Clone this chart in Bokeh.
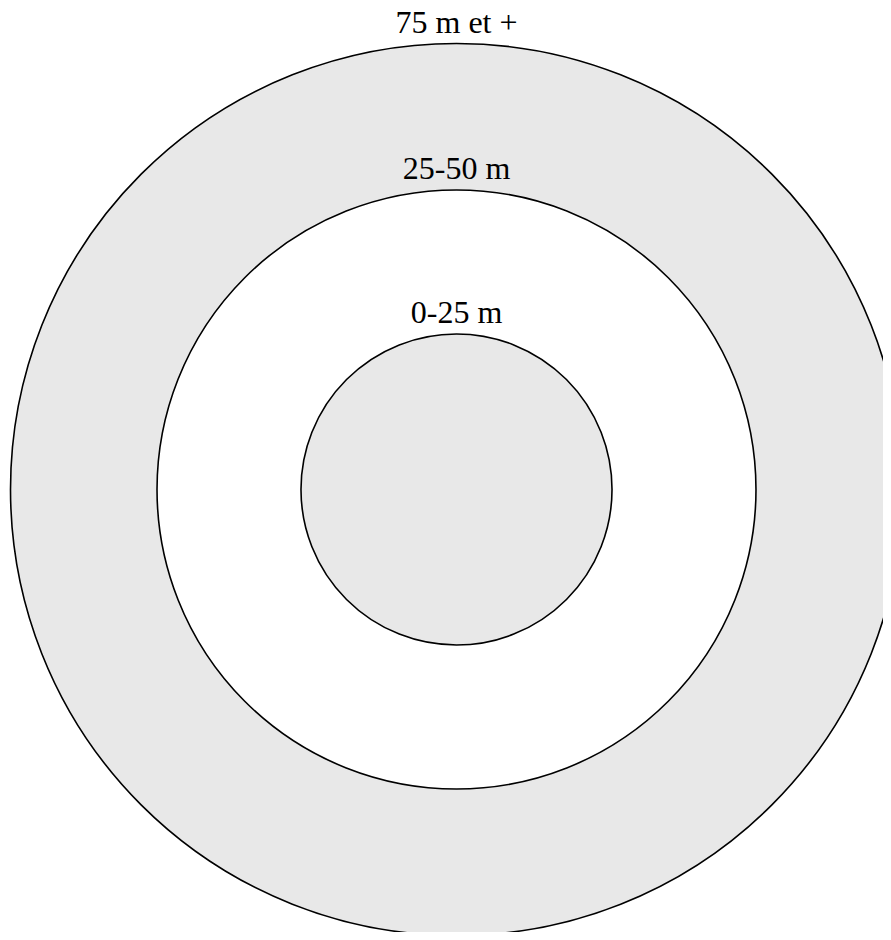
from bokeh.plotting import figure
from bokeh.models import Range1d, ColumnDataSource
from bokeh.core.properties import value
from bokeh.embed import file_html
from bokeh.resources import INLINE

# Data: distance zones (outer to inner), relative radii
labels = ["75 m et +", "25-50 m", "0-25 m"]
radii = [1.0, 0.6715, 0.3487]
fills = ["#e8e8e8", "#ffffff", "#e8e8e8"]

W, H = 883, 932
PX = 446.0  # pixels per unit radius
cx_px, cy_px = 456.0, 489.0  # center in plot pixels (from left, from top)
gap = 22.0 / PX  # label gap above each circle

p = figure(width=W, height=H, output_backend="svg", toolbar_location=None,
           x_range=Range1d(-cx_px / PX, (W - cx_px) / PX),
           y_range=Range1d(-(H - cy_px) / PX, cy_px / PX),
           min_border=0)
p.axis.visible = False
p.grid.visible = False
p.outline_line_color = None
p.background_fill_color = "white"
p.border_fill_color = "white"

src = ColumnDataSource(dict(x=[0.0] * len(radii), y=[0.0] * len(radii), r=radii,
                            ly=[r + gap for r in radii],
                            fill=fills, label=labels))
p.circle(x="x", y="y", radius="r", source=src, fill_color="fill",
         line_color="black", line_width=1.6)
p.text(x="x", y="ly", text="label", source=src, text_align="center",
       text_baseline="alphabetic", text_color="black",
       text_font=value("Liberation Serif"), text_font_size="32px")

open("out.html", "w").write(file_html(p, INLINE))
